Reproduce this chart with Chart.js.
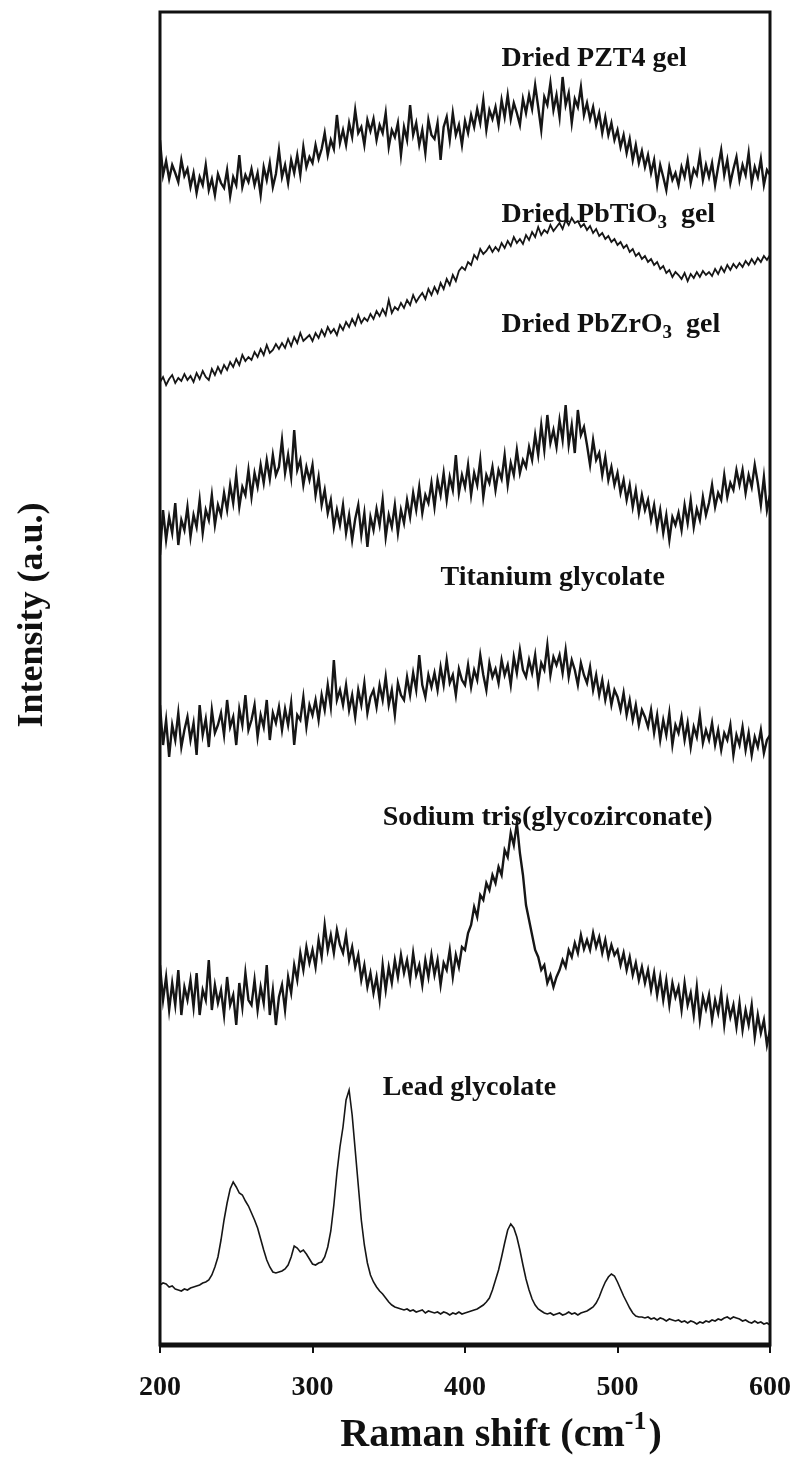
<!DOCTYPE html>
<html lang="en">
<head>
    <meta charset="UTF-8">
    <title>Raman spectra</title>
    <script src="https://cdn.jsdelivr.net/npm/chart.js"></script>
    <style>
        body { margin: 0; background: #fff; overflow: hidden; }
        canvas { display: block; }
    </style>
</head>
<body>
    <canvas id="ramanChart" width="798" height="1458"></canvas>

    <script>
        // Raman shift grid (cm-1)
        const ramanShift = [
            200,202,204,206,208,210,212,214,216,218,
            220,222,224,226,228,230,232,234,236,238,
            240,242,244,246,248,250,252,254,256,258,
            260,262,264,266,268,270,272,274,276,278,
            280,282,284,286,288,290,292,294,296,298,
            300,302,304,306,308,310,312,314,316,318,
            320,322,324,326,328,330,332,334,336,338,
            340,342,344,346,348,350,352,354,356,358,
            360,362,364,366,368,370,372,374,376,378,
            380,382,384,386,388,390,392,394,396,398,
            400,402,404,406,408,410,412,414,416,418,
            420,422,424,426,428,430,432,434,436,438,
            440,442,444,446,448,450,452,454,456,458,
            460,462,464,466,468,470,472,474,476,478,
            480,482,484,486,488,490,492,494,496,498,
            500,502,504,506,508,510,512,514,516,518,
            520,522,524,526,528,530,532,534,536,538,
            540,542,544,546,548,550,552,554,556,558,
            560,562,564,566,568,570,572,574,576,578,
            580,582,584,586,588,590,592,594,596,598,
            600
        ];

        // intensities (a.u., curves already stacked with their offsets)
        const driedPZT4 = [
            1205,1170,1184,1166,1180,1172,1163,1185,1169,1176,
            1158,1172,1152,1168,1160,1180,1155,1166,1150,1171,
            1162,1157,1175,1149,1168,1160,1190,1158,1170,1163,
            1176,1160,1172,1150,1178,1165,1182,1158,1171,1195,
            1168,1180,1162,1185,1172,1190,1170,1198,1178,1188,
            1182,1200,1186,1196,1212,1190,1205,1196,1230,1202,
            1215,1200,1222,1208,1235,1212,1218,1200,1225,1214,
            1226,1205,1220,1212,1232,1198,1215,1208,1222,1190,
            1218,1205,1240,1210,1222,1200,1215,1192,1225,1210,
            1206,1222,1185,1218,1228,1205,1232,1210,1220,1200,
            1224,1212,1230,1218,1236,1222,1245,1215,1235,1226,
            1238,1220,1245,1228,1250,1226,1242,1232,1220,1246,
            1232,1250,1236,1260,1238,1215,1248,1240,1262,1235,
            1250,1228,1268,1240,1252,1222,1246,1238,1258,1230,
            1242,1226,1238,1220,1232,1212,1228,1210,1222,1205,
            1215,1198,1210,1192,1206,1185,1200,1182,1194,1178,
            1190,1172,1185,1160,1180,1168,1155,1178,1165,1172,
            1160,1178,1168,1185,1162,1176,1170,1190,1165,1180,
            1168,1182,1160,1178,1195,1170,1185,1162,1176,1188,
            1165,1180,1170,1192,1162,1178,1168,1186,1160,1175,
            1170
        ];
        const driedPbTiO3 = [
            963,968,960,966,970,962,967,964,971,965,
            969,963,972,966,974,968,965,976,970,978,
            972,980,975,983,978,986,980,990,984,988,
            985,993,988,996,990,1000,992,995,1001,996,
            1002,997,1006,999,1008,1002,1012,1004,1007,1010,
            1004,1012,1007,1015,1009,1018,1012,1016,1010,1020,
            1015,1023,1018,1026,1020,1030,1022,1027,1024,1031,
            1026,1034,1029,1036,1030,1045,1032,1038,1035,1042,
            1037,1045,1040,1050,1043,1048,1052,1046,1056,1050,
            1058,1052,1062,1056,1066,1060,1070,1064,1074,1078,
            1075,1083,1080,1090,1086,1096,1091,1094,1099,1093,
            1098,1094,1102,1097,1104,1099,1108,1102,1106,1101,
            1110,1105,1113,1108,1118,1110,1115,1112,1120,1114,
            1118,1122,1116,1125,1120,1127,1122,1124,1118,1121,
            1115,1119,1112,1116,1109,1112,1106,1109,1103,1106,
            1100,1103,1097,1100,1093,1096,1089,1092,1086,1089,
            1083,1086,1080,1083,1076,1079,1072,1075,1068,1073,
            1070,1066,1072,1064,1071,1067,1073,1068,1074,1070,
            1073,1069,1076,1071,1078,1073,1080,1075,1081,1077,
            1082,1078,1084,1080,1086,1081,1087,1083,1089,1085,
            1090
        ];
        const driedPbZrO3 = [
            790,835,805,828,812,842,800,825,815,838,
            808,830,818,845,812,835,825,850,820,840,
            830,852,835,860,842,870,838,858,850,875,
            848,872,858,880,862,885,866,890,870,878,
            905,872,890,868,915,875,885,860,878,865,
            880,850,868,840,855,832,845,818,835,820,
            840,812,830,805,826,840,810,832,798,828,
            815,836,820,845,808,830,818,840,812,835,
            822,845,828,852,835,858,832,850,842,862,
            838,865,850,872,845,868,855,890,852,870,
            858,880,850,872,860,885,848,870,862,878,
            855,875,866,890,860,882,870,895,872,885,
            878,898,885,910,890,920,895,930,902,915,
            898,925,905,940,900,920,892,935,910,918,
            900,880,905,885,892,870,888,865,878,860,
            872,852,865,845,860,838,855,832,850,835,
            845,825,840,818,835,812,830,805,828,820,
            832,815,840,822,845,818,836,825,848,830,
            842,860,838,852,845,870,848,862,855,875,
            860,875,852,870,858,880,862,840,868,835,
            850
        ];
        const titaniumGlycolate = [
            640,600,625,588,620,605,632,598,615,628,
            605,622,590,640,610,626,598,635,612,620,
            632,610,645,618,628,600,636,620,650,615,
            625,640,608,630,618,645,605,632,622,638,
            615,636,620,642,600,630,625,648,618,640,
            630,645,625,650,635,660,638,685,645,655,
            640,660,635,650,628,655,640,662,632,648,
            655,638,660,645,668,640,655,630,662,650,
            645,668,650,672,655,690,660,648,670,658,
            672,655,678,660,685,662,670,650,676,665,
            660,680,658,675,665,690,670,655,682,668,
            676,662,685,670,680,660,688,672,695,675,
            668,685,672,690,662,682,675,700,670,688,
            680,690,672,695,668,685,675,660,682,670,
            662,678,655,670,650,665,645,660,640,655,
            648,635,652,630,645,625,640,620,635,628,
            618,635,612,630,605,625,610,632,600,620,
            612,628,605,622,598,618,608,630,602,615,
            605,622,600,615,595,612,605,620,590,610,
            600,618,595,612,590,608,598,615,592,605,
            610
        ];
        const sodiumTrisGlycozirconate = [
            380,345,368,335,362,340,375,330,358,345,
            365,338,372,330,355,345,385,335,360,342,
            355,330,368,340,350,320,362,338,372,345,
            340,365,335,358,342,380,330,355,320,348,
            360,335,368,352,380,365,392,375,398,382,
            395,378,405,388,420,395,410,392,415,400,
            392,410,385,398,378,390,365,380,358,372,
            352,368,345,380,355,378,362,385,368,390,
            372,385,365,392,370,380,360,385,368,390,
            370,385,360,382,375,395,368,390,378,398,
            395,412,420,438,428,450,445,462,455,470,
            462,478,470,495,488,512,500,522,492,470,
            440,425,410,395,388,375,380,362,370,358,
            368,375,385,378,395,388,402,392,410,396,
            405,395,412,398,408,392,405,388,400,390,
            395,380,392,375,388,370,382,365,378,362,
            375,355,372,350,368,345,365,340,362,348,
            358,335,362,340,352,330,358,325,348,336,
            350,325,345,332,352,320,345,328,340,318,
            342,315,335,320,340,308,330,312,325,300,
            315
        ];
        const leadGlycolate = [
            60,62,61,58,59,56,55,54,56,55,
            57,58,59,60,62,63,65,70,78,88,
            105,125,142,156,163,158,152,150,144,139,
            132,125,117,106,95,85,78,73,72,73,
            74,76,80,88,99,97,93,95,91,86,
            81,80,82,83,88,98,114,140,172,198,
            218,245,255,230,195,160,125,100,82,70,
            63,58,54,51,47,43,40,38,37,36,
            35,36,34,35,33,34,35,32,34,33,
            32,33,31,33,32,30,32,31,33,31,
            32,33,34,35,36,38,40,43,47,55,
            65,75,88,102,115,121,117,108,95,80,
            66,55,46,40,36,34,32,31,32,30,
            31,32,30,31,33,31,32,30,32,33,
            34,36,38,42,48,56,63,68,71,69,
            63,56,49,43,37,32,29,28,28,27,
            28,26,27,25,27,26,24,26,25,24,
            25,23,24,22,24,23,21,23,22,24,
            23,25,24,26,25,27,28,26,28,27,
            26,24,25,23,22,24,22,23,21,22,
            20
        ];

        const xTicks = [200, 300, 400, 500, 600];

        const seriesList = [
            { name: 'Dried PZT4 gel', values: driedPZT4, width: 2.4 },
            { name: 'Dried PbTiO3 gel', values: driedPbTiO3, width: 1.8 },
            { name: 'Dried PbZrO3 gel', values: driedPbZrO3, width: 2.4 },
            { name: 'Titanium glycolate', values: titaniumGlycolate, width: 2.4 },
            { name: 'Sodium tris(glycozirconate)', values: sodiumTrisGlycozirconate, width: 2.4 },
            { name: 'Lead glycolate', values: leadGlycolate, width: 1.6 }
        ];

        // curve labels: [text before subscript, subscript, text after], anchored in data units
        const curveLabels = [
            { parts: ['Dried PZT4 gel', '', ''], x: 424, y: 1279 },
            { parts: ['Dried PbTiO', '3', '  gel'], x: 424, y: 1123 },
            { parts: ['Dried PbZrO', '3', '  gel'], x: 424, y: 1013 },
            { parts: ['Titanium glycolate', '', ''], x: 384, y: 760 },
            { parts: ['Sodium tris(glycozirconate)', '', ''], x: 346, y: 520 },
            { parts: ['Lead glycolate', '', ''], x: 346, y: 250 }
        ];

        const SERIF = "'Liberation Serif', 'Times New Roman', serif";

        const framePlugin = {
            id: 'frame',
            afterDraw(chart) {
                const ctx = chart.ctx;
                const a = chart.chartArea;
                const xs = chart.scales.x, ys = chart.scales.y;
                ctx.save();
                ctx.strokeStyle = '#111';
                ctx.lineWidth = 3;
                ctx.strokeRect(a.left, a.top, a.right - a.left, a.bottom - a.top);
                ctx.lineWidth = 5;
                ctx.beginPath();
                ctx.moveTo(a.left - 1, a.bottom);
                ctx.lineTo(a.right + 1, a.bottom);
                ctx.stroke();

                // curve labels
                ctx.fillStyle = '#111';
                ctx.textBaseline = 'alphabetic';
                ctx.textAlign = 'left';
                curveLabels.forEach(l => {
                    let px = xs.getPixelForValue(l.x);
                    const py = ys.getPixelForValue(l.y);
                    ctx.font = 'bold 28px ' + SERIF;
                    ctx.fillText(l.parts[0], px, py);
                    px += ctx.measureText(l.parts[0]).width;
                    if (l.parts[1]) {
                        ctx.font = 'bold 19px ' + SERIF;
                        ctx.fillText(l.parts[1], px, py + 6);
                        px += ctx.measureText(l.parts[1]).width;
                        ctx.font = 'bold 28px ' + SERIF;
                        ctx.fillText(l.parts[2], px, py);
                    }
                });

                // x title with superscript
                const big = 'bold 40px ' + SERIF, small = 'bold 26px ' + SERIF;
                ctx.font = big;
                const w1 = ctx.measureText('Raman shift (cm').width;
                const w3 = ctx.measureText(')').width;
                ctx.font = small;
                const w2 = ctx.measureText('-1').width;
                let tx = 500 - (w1 + w2 + w3) / 2;
                const ty = 1446;
                ctx.font = big;
                ctx.fillText('Raman shift (cm', tx, ty);
                ctx.font = small;
                ctx.fillText('-1', tx + w1, ty - 17);
                ctx.font = big;
                ctx.fillText(')', tx + w1 + w2 + 2, ty);

                // y title
                ctx.translate(33, 615);
                ctx.rotate(-Math.PI / 2);
                ctx.textAlign = 'center';
                ctx.textBaseline = 'middle';
                ctx.font = 'bold 36px ' + SERIF;
                ctx.fillText('Intensity (a.u.)', 0, 0);
                ctx.restore();
            }
        };

        function createChart() {
            const ctx = document.getElementById('ramanChart').getContext('2d');
            new Chart(ctx, {
                type: 'line',
                data: {
                    datasets: seriesList.map(s => ({
                        label: s.name,
                        data: ramanShift.map((x, i) => ({ x: x, y: s.values[i] })),
                        borderColor: '#161616',
                        borderWidth: s.width,
                        pointRadius: 0,
                        tension: 0,
                        fill: false
                    }))
                },
                options: {
                    responsive: false,
                    animation: false,
                    layout: { padding: { left: 160, right: 28, top: 12, bottom: 0 } },
                    plugins: {
                        legend: { display: false },
                        tooltip: { enabled: false }
                    },
                    scales: {
                        x: {
                            type: 'linear',
                            min: 200,
                            max: 600,
                            afterFit: s => {
                                s.height = 113;
                                s.paddingLeft = 0;
                                s.paddingRight = 0;
                            },
                            afterBuildTicks: s => { s.ticks = xTicks.map(v => ({ value: v })); },
                            border: { display: false },
                            grid: {
                                display: true,
                                drawOnChartArea: false,
                                drawTicks: true,
                                tickLength: 8,
                                lineWidth: 2,
                                color: '#111'
                            },
                            ticks: {
                                color: '#111',
                                padding: 18,
                                maxRotation: 0,
                                font: { family: SERIF, size: 28, weight: 'bold' }
                            }
                        },
                        y: {
                            display: false,
                            min: 0,
                            max: 1333
                        }
                    }
                },
                plugins: [framePlugin]
            });
        }

        window.onload = createChart;
    </script>
</body>
</html>
